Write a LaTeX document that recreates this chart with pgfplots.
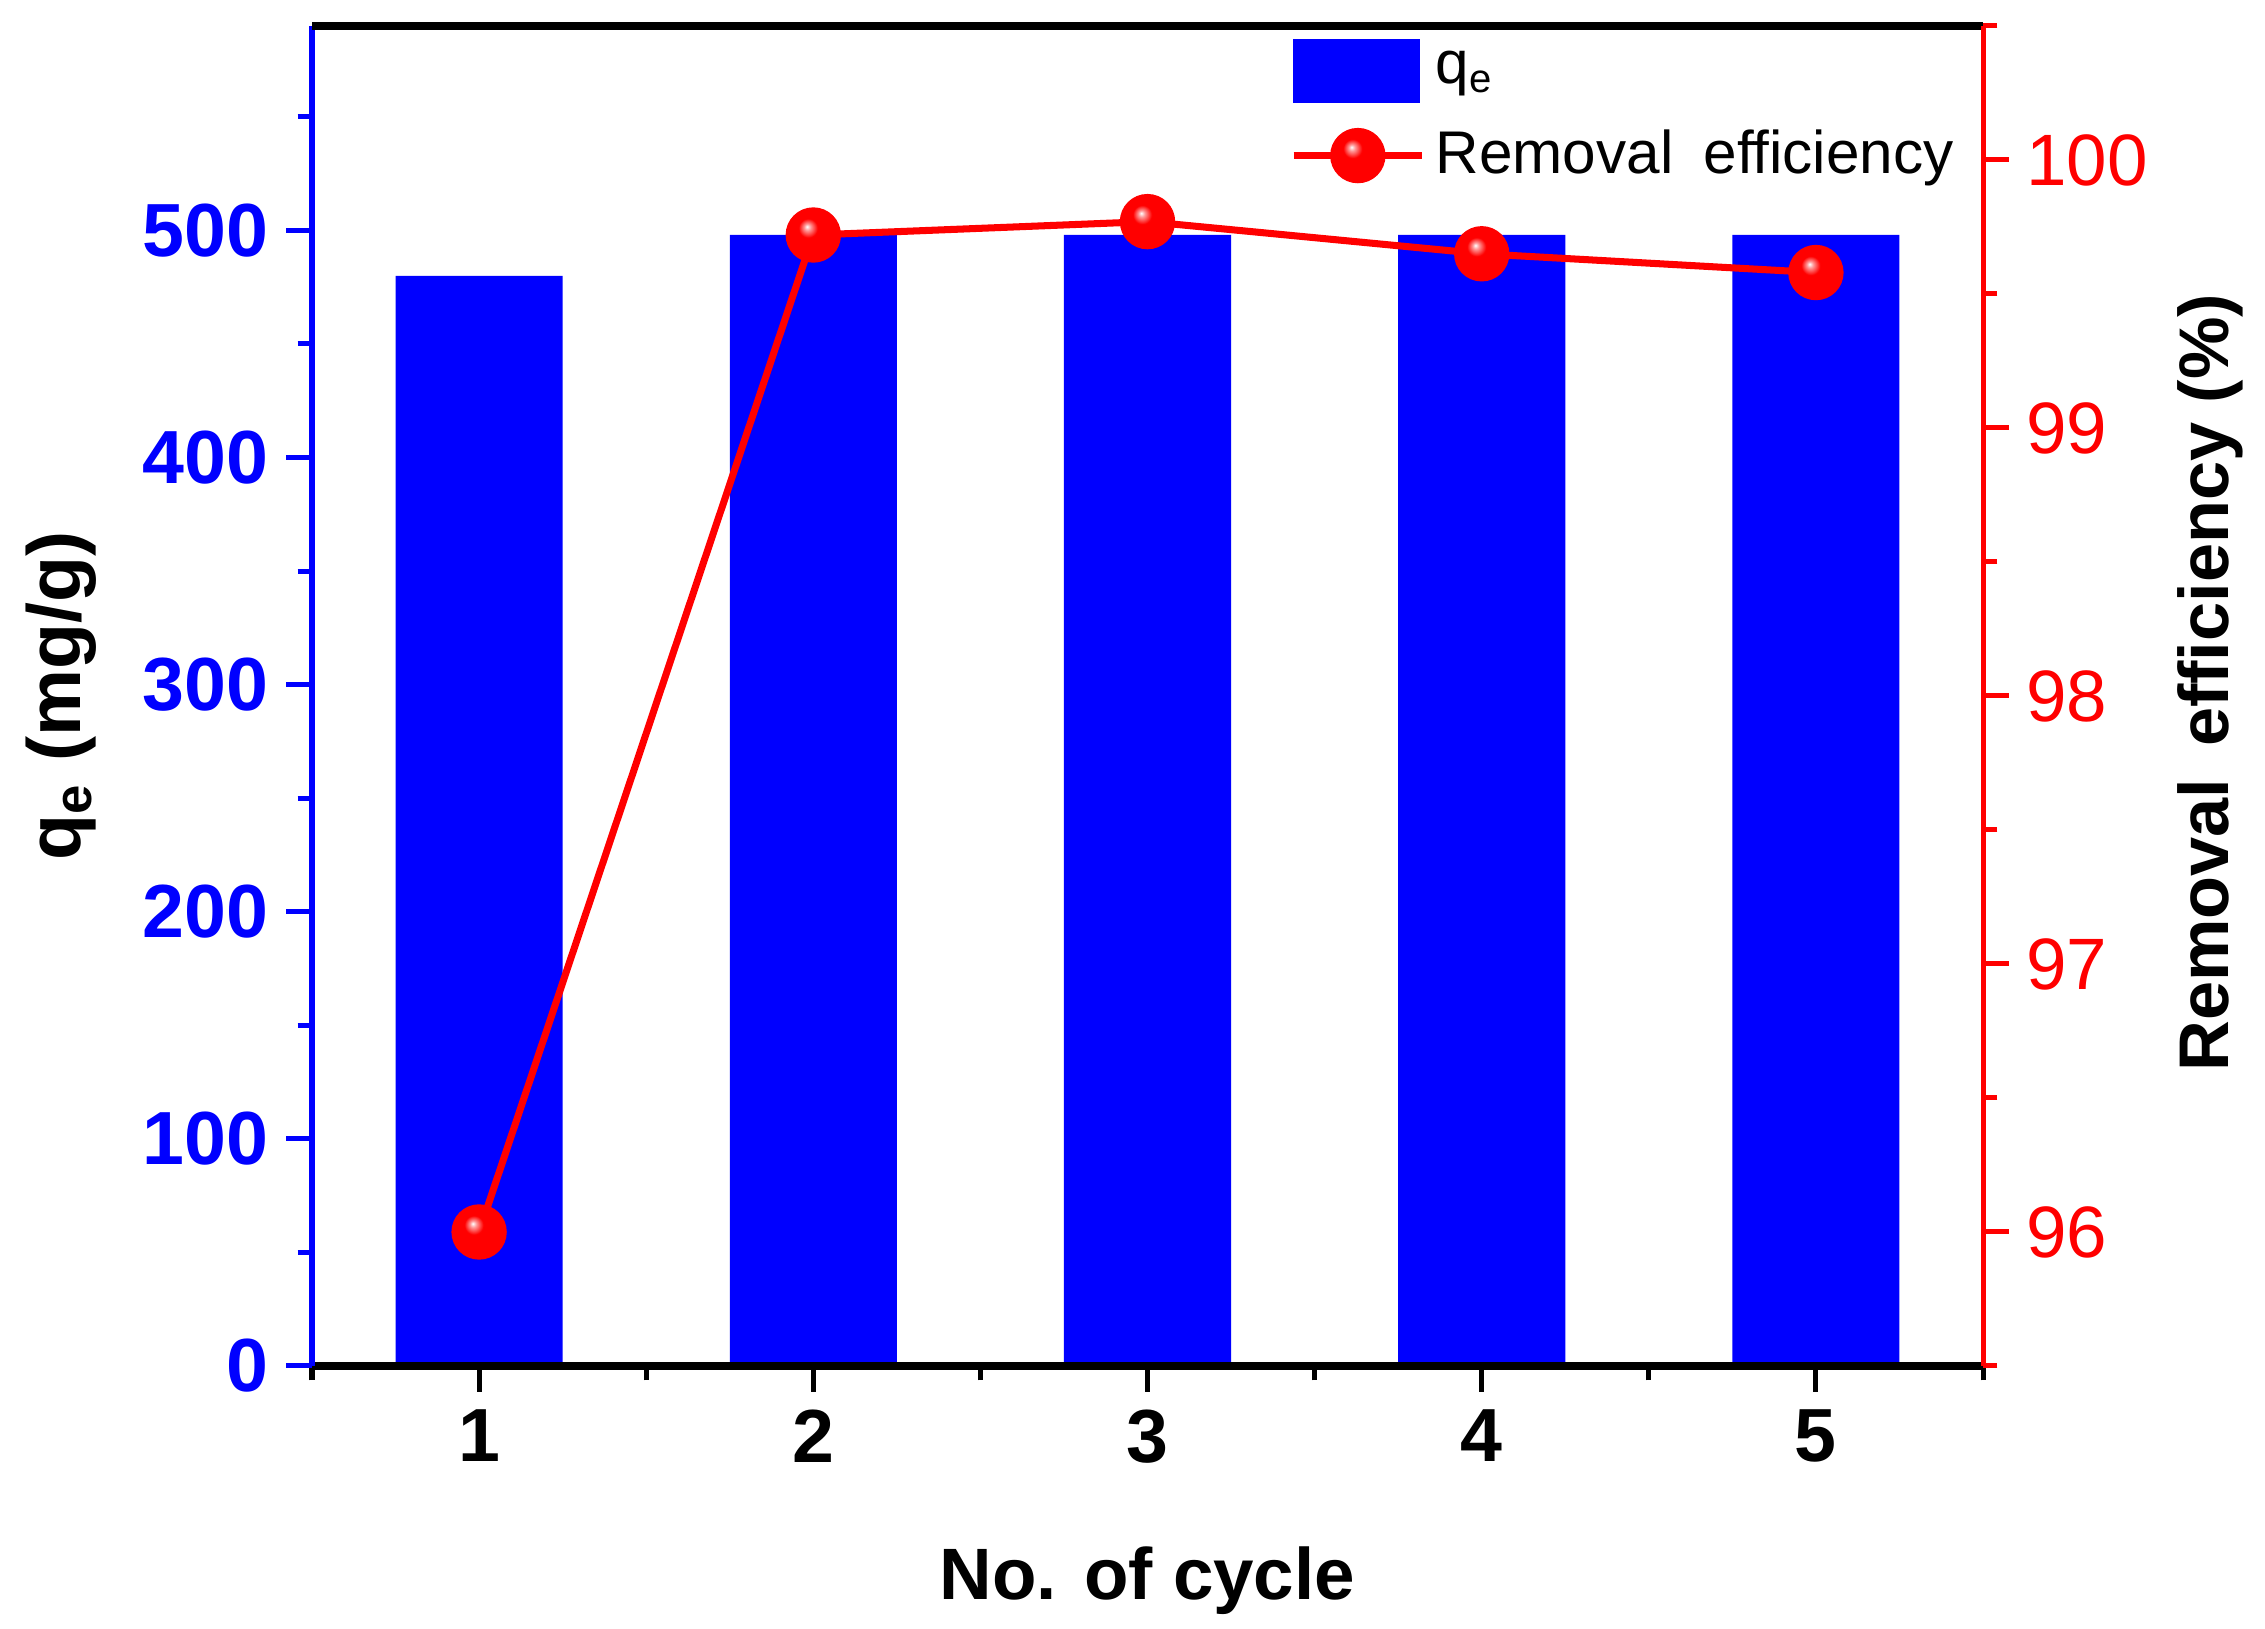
\documentclass[border=0pt]{standalone}
\usepackage{fontspec}
\setmainfont{Liberation Sans}
\usepackage{pgfplots}
\pgfplotsset{compat=1.18}
\pgfdeclareradialshading{redballshade}{\pgfpoint{-6bp}{8bp}}{color(0bp)=(white); color(3bp)=(white!60!red); color(9bp)=(red); color(50bp)=(red)}
\pgfdeclareplotmark{rball}{%
  \pgfpathcircle{\pgfpointorigin}{\pgfplotmarksize}%
  \pgfshadepath{redballshade}{0}%
  \pgfpathcircle{\pgfpointorigin}{\pgfplotmarksize}%
  \pgfusepathqstroke}
\pgfplotsset{
  base/.style={
    scale only axis, width=116.97mm, height=93.8mm,
    xmin=0.5, xmax=5.5,
    tick align=outside,
    major tick length=1.8mm, minor tick length=1mm,
    /pgf/number format/assume math mode=true,
    clip=false,
  }
}
\begin{document}
\begin{tikzpicture}
\begin{axis}[base,
  axis on top,
  ymin=0, ymax=590,
  axis x line*=bottom, axis y line*=left,
  x axis line style={-, black, line width=1.6pt},
  y axis line style={-, blue, line width=1pt},
  xtick={1,2,3,4,5}, minor xtick={0.5,1.5,2.5,3.5,4.5,5.5},
  ytick={0,100,200,300,400,500}, minor ytick={50,150,250,350,450,550},
  xtick style={black, line width=1pt},
  ytick style={blue, line width=1pt},
  xticklabel style={font=\bfseries\fontsize{15}{18}\selectfont, black},
  yticklabel style={font=\bfseries\fontsize{15}{18}\selectfont, blue},
  xlabel={No. of cycle},
  ylabel={q\textsubscript{e} (mg/g)},
  xlabel style={font=\bfseries\fontsize{14.5}{17}\selectfont, at={(axis description cs:0.5,-0.174)}, anchor=base},
  ylabel style={font=\bfseries\fontsize{15}{18}\selectfont, at={(axis description cs:-0.150,0.500)}, anchor=center},
]
\addplot[ybar, bar width=0.5, bar shift=0pt, fill=blue, draw=none] coordinates {(1,480) (2,498) (3,498) (4,498) (5,498)};
\end{axis}
\begin{axis}[base,
  ymin=95.5, ymax=100.5,
  axis x line*=top, axis y line*=right,
  x axis line style={-, black, line width=1.6pt},
  y axis line style={-, red, line width=1pt},
  xtick=\empty,
  ytick={96,97,98,99,100}, minor ytick={95.5,96.5,97.5,98.5,99.5,100.5},
  ytick style={red, line width=1pt},
  yticklabel style={font=\fontsize{14.5}{17}\selectfont, red},
  ylabel={Removal\hspace{0.45em}efficiency (\%)},
  ylabel style={font=\bfseries\fontsize{14}{17}\selectfont, at={(axis description cs:1.136,0.510)}, anchor=center},
  legend style={at={(axis description cs:0.5853,0.99)}, anchor=north west, draw=none, fill=none, inner sep=0pt, outer sep=0pt, font=\fontsize{12}{14}\selectfont, row sep=1.2mm},
  legend cell align=left,
]
\addlegendimage{legend image code/.code={\fill[blue] (0mm,-2.15mm) rectangle (8.8mm,2.15mm);}}
\addlegendentry{q\textsubscript{e}}
\addplot[red, line width=1.4pt, mark=rball, mark size=1.85mm, mark options={red, line width=0.5pt},
  legend image code/.code={\draw[red, line width=1.4pt, mark=rball, mark size=1.85mm, mark options={red, line width=0.5pt}, mark repeat=2, mark phase=2] plot coordinates {(0mm,0mm) (4.5mm,0mm) (9mm,0mm)};}]
  coordinates {(1,96.0) (2,99.72) (3,99.77) (4,99.65) (5,99.58)};
\addlegendentry{Removal\hspace{0.5em}efficiency}
\end{axis}
\pgfresetboundingbox
\path[use as bounding box] ([shift={(-21.84mm,-18.41mm)}]current axis.south west) rectangle ([shift={(19.74mm,1.82mm)}]current axis.north east);
\end{tikzpicture}
\end{document}
